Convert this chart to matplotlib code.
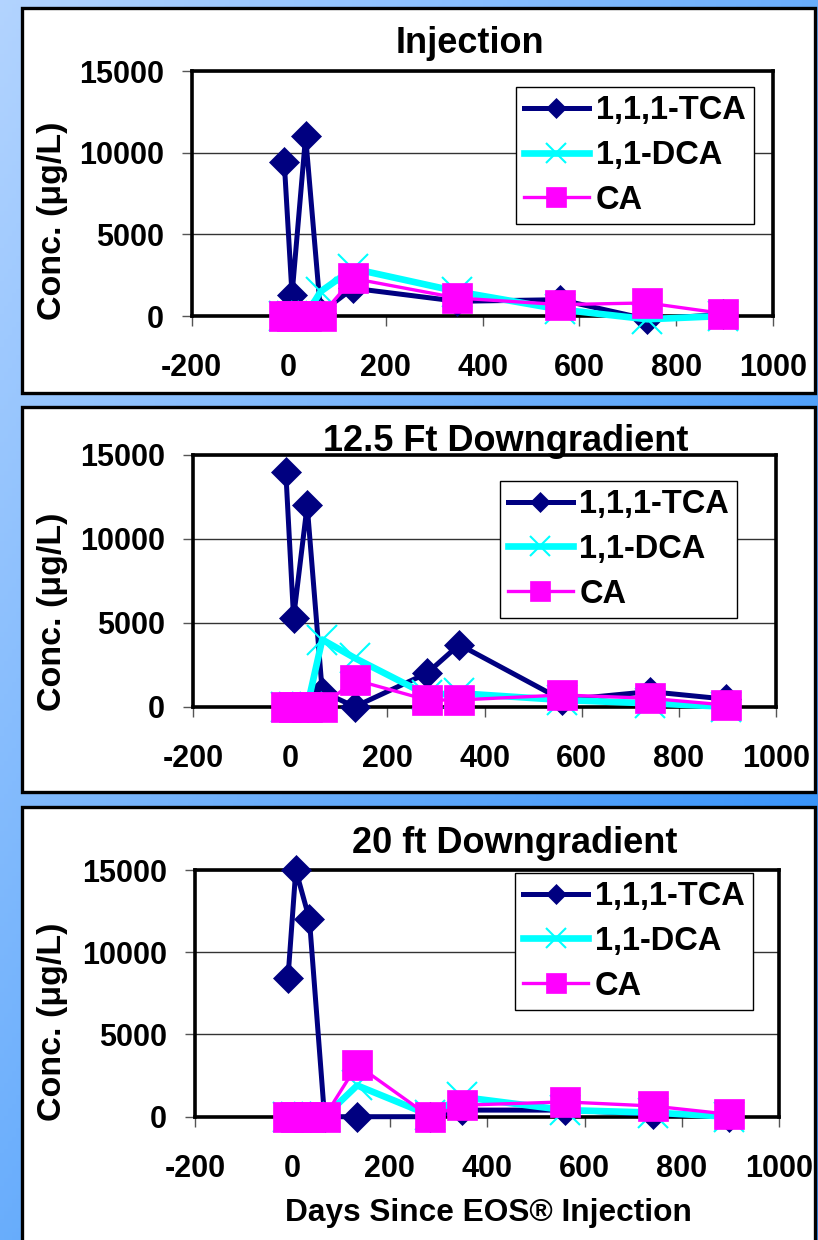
import numpy as np
import matplotlib
matplotlib.use('Agg')
import matplotlib.pyplot as plt
from matplotlib.patches import Rectangle

# ---------------- data ----------------
series_names = ['1,1,1-TCA', '1,1-DCA', 'CA']
panel_titles = ['Injection', '12.5 Ft Downgradient', '20 ft Downgradient']

days_inj = [-9, 7, 35, 66, 133, 348, 560, 740, 897]
tca_inj = [9400, 1300, 11000, 200, 1700, 900, 1000, -200, 100]
dca_inj = [0, 0, 0, 1500, 2900, 1500, 400, -200, 0]
ca_inj = [0, 0, 0, 0, 2300, 1100, 700, 800, 150]

days_12 = [-9, 7, 35, 66, 133, 282, 348, 560, 740, 897]
tca_12 = [14000, 5300, 12000, 900, 0, 2000, 3700, 400, 900, 450]
dca_12 = [0, 0, 0, 4000, 2900, 700, 800, 400, 200, 0]
ca_12 = [0, 0, 0, 0, 1600, 400, 400, 700, 500, 100]

days_20 = [-9, 7, 35, 66, 133, 282, 348, 560, 740, 897]
tca_20 = [8450, 15000, 12000, 0, 0, 0, 400, 400, 150, 0]
dca_20 = [0, 0, 0, 0, 1900, 100, 1200, 400, 250, 0]
ca_20 = [0, 0, 0, 0, 3150, 0, 700, 900, 650, 150]

x_ticks = [-200, 0, 200, 400, 600, 800, 1000]
y_ticks = [0, 5000, 10000, 15000]
y_label = 'Conc. (μg/L)'
x_label = 'Days Since EOS® Injection'

panels = [
    (days_inj, tca_inj, dca_inj, ca_inj),
    (days_12, tca_12, dca_12, ca_12),
    (days_20, tca_20, dca_20, ca_20),
]

# ---------------- layout (pixels) ----------------
W, H, DPI = 818, 1240, 100
plt.rcParams['font.family'] = ['Liberation Sans', 'DejaVu Sans']
plt.rcParams['font.weight'] = 'bold'
plt.rcParams['axes.unicode_minus'] = False

fig = plt.figure(figsize=(W / DPI, H / DPI), dpi=DPI)

def fx(px):
    return px / W

def fy(py):
    return 1 - py / H

# background gradient
bg = fig.add_axes([0, 0, 1, 1], zorder=-10)
xx, yy = np.meshgrid(np.linspace(0, 1, 200), np.linspace(0, 1, 300))
t = np.clip(0.6 * xx + 0.6 * yy, 0, 1)[..., None]
c0 = np.array([0.70, 0.83, 1.0])
c1 = np.array([0.22, 0.58, 0.98])
bg.imshow(c0 * (1 - t) + c1 * t, extent=[0, 1, 0, 1], aspect='auto', origin='upper')
bg.set_xlim(0, 1)
bg.set_ylim(0, 1)
bg.axis('off')

boxes_px = [(22, 8, 815, 393), (22, 407, 815, 792), (22, 807, 815, 1262)]
for (x0, y0, x1, y1) in boxes_px:
    bg.add_patch(Rectangle((fx(x0), fy(y1)), (x1 - x0) / W, (y1 - y0) / H,
                           facecolor='white', edgecolor='black', lw=2.4))

axes_px = [(191.7, 71, 773.3, 316), (193, 455, 776, 706.7), (195, 870, 779.3, 1116.7)]
title_px = [(470, 53), (506, 451), (515, 853)]
ylab_px = [(52, 221), (52, 612), (52, 1022)]
legend_px = [(515.7, 87.3), (499.5, 481), (515, 873)]

colors = ['#000080', '#00FFFF', '#FF00FF']

for i, (days, tca, dca, ca) in enumerate(panels):
    x0, y0, x1, y1 = axes_px[i]
    ax = fig.add_axes([fx(x0), fy(y1), (x1 - x0) / W, (y1 - y0) / H])
    ax.plot(days, tca, color=colors[0], lw=3.6, marker='D', ms=15.5,
            mec=colors[0], mew=0.5, label=series_names[0], clip_on=False, zorder=3)
    ax.plot(days, dca, color=colors[1], lw=4.8, marker='x', ms=21,
            mew=1.5, label=series_names[1], clip_on=False, zorder=4)
    ax.plot(days, ca, color=colors[2], lw=2.4, marker='s', ms=21,
            mec=colors[2], mew=0.5, label=series_names[2], clip_on=False, zorder=5)
    ax.set_xlim(-200, 1000)
    ax.set_ylim(0, 15000)
    ax.set_xticks(x_ticks)
    ax.set_yticks(y_ticks)
    ax.yaxis.grid(True, color='#333333', lw=1)
    ax.set_axisbelow(True)
    for s in ax.spines.values():
        s.set_linewidth(2.6)
        s.set_color('black')
    ax.tick_params(axis='both', direction='out', length=7, width=1,
                   color='#555555', labelsize=22)
    ax.tick_params(axis='x', pad=20)
    ax.tick_params(axis='y', pad=13)
    for lab in ax.get_xticklabels() + ax.get_yticklabels():
        lab.set_fontweight('bold')

    tx, ty = title_px[i]
    fig.text(fx(tx), fy(ty), panel_titles[i], ha='center', va='baseline',
             fontsize=26, fontweight='bold')
    lx, ly = ylab_px[i]
    fig.text(fx(lx), fy(ly), y_label, rotation=90, ha='center', va='center',
             fontsize=24.5, fontweight='bold')

    gx, gy = legend_px[i]
    leg = ax.legend(loc='upper left', bbox_to_anchor=(fx(gx), fy(gy)),
                    bbox_transform=fig.transFigure, borderaxespad=0,
                    frameon=True, fancybox=False, edgecolor='black',
                    framealpha=1, fontsize=23.5, markerscale=0.68,
                    handlelength=2.0, handletextpad=0.2, labelspacing=0.42,
                    borderpad=0.25)
    leg.get_frame().set_linewidth(1)
    leg.set_zorder(10)
    for txt in leg.get_texts():
        txt.set_fontweight('bold')

fig.text(fx(488), fy(1213), x_label, ha='center', va='center',
         fontsize=22.8, fontweight='bold')

fig.savefig('out.png', dpi=DPI)
